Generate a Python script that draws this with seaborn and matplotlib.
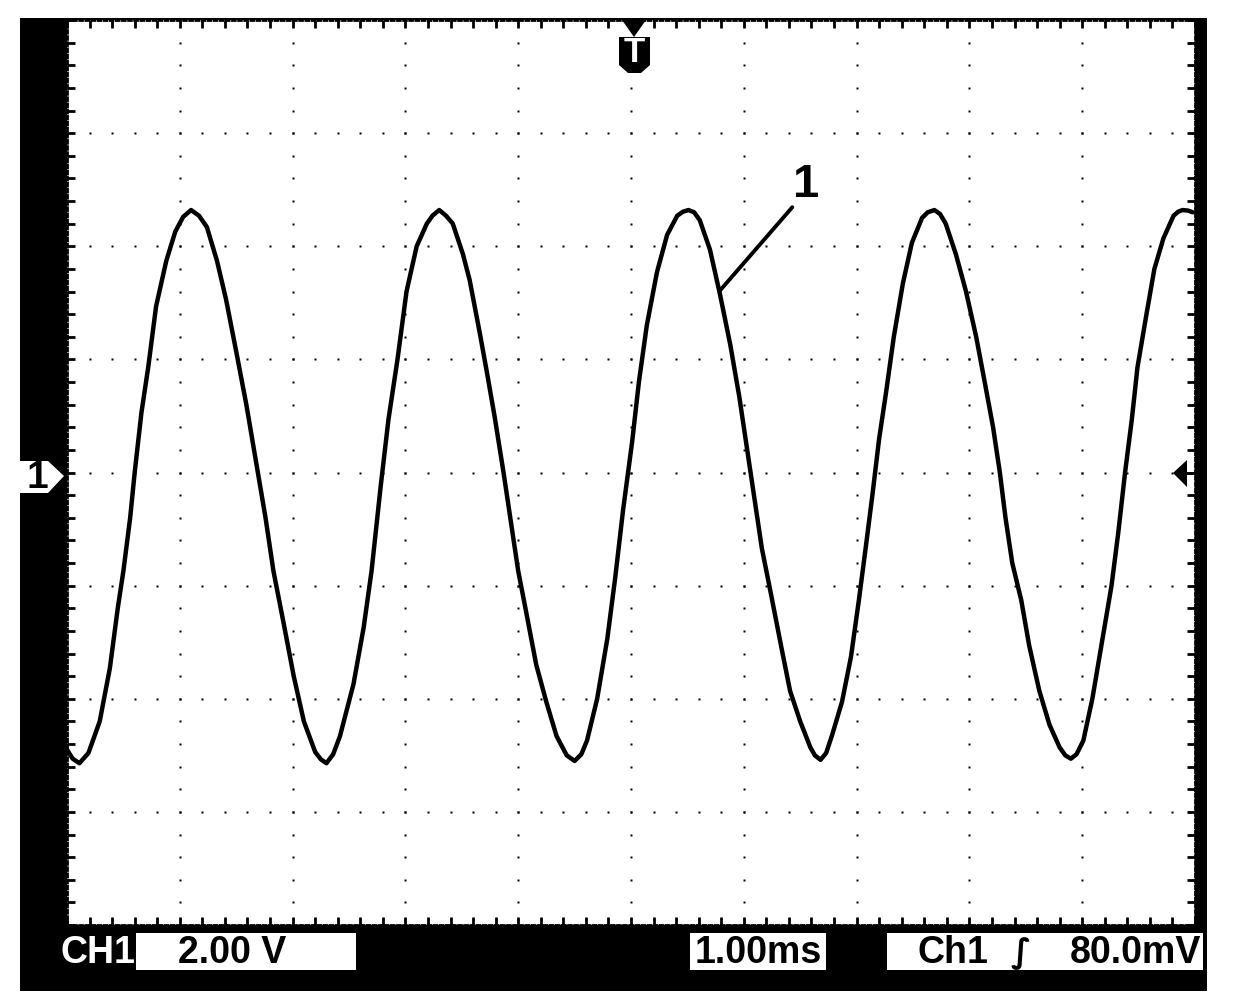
import numpy as np
import matplotlib
matplotlib.use("Agg")
import matplotlib.pyplot as plt
from matplotlib.patches import Rectangle, Polygon
from matplotlib.lines import Line2D
import seaborn as sns

# ---- data (time in ms, voltage in V) ----
time_ms = [
    -5.00, -4.95, -4.89, -4.81, -4.71, -4.62, -4.55, -4.50, -4.44, -4.40,
    -4.34, -4.28, -4.21, -4.12, -4.04, -3.97, -3.90, -3.83, -3.76, -3.67,
    -3.59, -3.50, -3.41, -3.32, -3.24, -3.17, -3.08, -2.99, -2.90, -2.80,
    -2.75, -2.70, -2.64, -2.58, -2.46, -2.37, -2.30, -2.22, -2.15, -2.07,
    -1.99, -1.90, -1.81, -1.76, -1.70, -1.64, -1.58, -1.49, -1.43, -1.34,
    -1.28, -1.21, -1.13, -1.06, -1.00, -0.93, -0.84, -0.75, -0.66, -0.57,
    -0.50, -0.44, -0.39, -0.30, -0.21, -0.14, -0.07, 0.01, 0.07, 0.14,
    0.23, 0.32, 0.41, 0.46, 0.51, 0.56, 0.61, 0.70, 0.79, 0.88,
    0.96, 1.03, 1.10, 1.16, 1.24, 1.33, 1.41, 1.50, 1.59, 1.63,
    1.68, 1.73, 1.78, 1.87, 1.95, 2.02, 2.08, 2.14, 2.20, 2.26,
    2.33, 2.41, 2.49, 2.58, 2.63, 2.69, 2.74, 2.79, 2.88, 2.97,
    3.06, 3.13, 3.21, 3.27, 3.32, 3.38, 3.46, 3.53, 3.62, 3.71,
    3.80, 3.85, 3.90, 3.95, 4.01, 4.09, 4.18, 4.26, 4.32, 4.38,
    4.44, 4.49, 4.57, 4.64, 4.72, 4.81, 4.85, 4.89, 4.94, 4.98,
]
volts = [
    -4.90, -5.06, -5.14, -4.96, -4.40, -3.46, -2.40, -1.74, -0.80, 0.00,
    1.06, 1.86, 2.94, 3.74, 4.26, 4.52, 4.64, 4.54, 4.34, 3.74,
    3.06, 2.14, 1.20, 0.14, -0.80, -1.74, -2.66, -3.60, -4.40, -4.94,
    -5.07, -5.14, -4.98, -4.66, -3.74, -2.74, -1.74, -0.26, 0.94, 2.00,
    3.20, 4.00, 4.40, 4.54, 4.64, 4.54, 4.40, 3.86, 3.40, 2.46,
    1.80, 1.00, 0.00, -0.94, -1.74, -2.46, -3.40, -4.06, -4.66, -5.00,
    -5.10, -4.98, -4.74, -4.00, -2.94, -1.86, -0.66, 0.54, 1.60, 2.60,
    3.54, 4.20, 4.54, 4.61, 4.64, 4.60, 4.46, 3.94, 3.14, 2.26,
    1.34, 0.40, -0.54, -1.34, -2.14, -3.06, -3.86, -4.40, -4.86, -5.00,
    -5.08, -4.96, -4.66, -4.06, -3.26, -2.26, -1.34, -0.40, 0.60, 1.40,
    2.40, 3.34, 4.06, 4.50, 4.60, 4.64, 4.57, 4.40, 3.86, 3.20,
    2.40, 1.66, 0.80, 0.00, -0.80, -1.60, -2.26, -3.06, -3.86, -4.46,
    -4.86, -5.00, -5.06, -4.98, -4.74, -4.00, -2.94, -2.00, -1.06, 0.00,
    0.94, 1.86, 2.80, 3.60, 4.14, 4.54, 4.61, 4.64, 4.63, 4.60,
]

# scope settings / labels
ch_label = "CH1"
volts_div_label = "2.00 V"
time_div_label = "1.00ms"
trig_src_label = "Ch1"
trig_level_label = "80.0mV"
trace_label = "1"
volts_per_div = 2.0
ms_per_div = 1.0
n_xdiv, n_ydiv = 10, 8
# leader line for label "1": (time, volt) start/end, label position
leader_t = [1.43, 0.79]
leader_v = [4.69, 3.22]
label_pos = (1.55, 5.08)

sns.set_style("white")
plt.rcParams["font.family"] = ["Liberation Sans Narrow", "Liberation Sans", "DejaVu Sans"]

W, H = 1248, 1006
fig = plt.figure(figsize=(W / 100, H / 100), dpi=100)
fig.patch.set_facecolor("white")


def fx(x):
    return x / W


def fy(y):
    return 1 - y / H


# black instrument frame
fig.add_artist(Rectangle((fx(20), fy(991)), (1207 - 20) / W, (991 - 18) / H,
                         transform=fig.transFigure, facecolor="black",
                         edgecolor="none", zorder=-1))

ax_l, ax_r, ax_t, ax_b = 67, 1195, 20, 925
ax = fig.add_axes([fx(ax_l), fy(ax_b), (ax_r - ax_l) / W, (ax_b - ax_t) / H])
ax.set_facecolor("white")

xmax = n_xdiv / 2 * ms_per_div
ymax = n_ydiv / 2 * volts_per_div
ax.set_xlim(-xmax, xmax)
ax.set_ylim(-ymax, ymax)

# graticule dots
xsub = np.arange(-xmax, xmax + 1e-9, ms_per_div / 5)
ysub = np.arange(-ymax, ymax + 1e-9, volts_per_div / 5)
for xv in np.arange(-xmax + ms_per_div, xmax - 1e-9, ms_per_div):
    ax.plot(np.full_like(ysub, xv), ysub, ls="none", marker="s", ms=1.8,
            mec="none", color="black", zorder=1)
for yv in np.arange(-ymax + volts_per_div, ymax - 1e-9, volts_per_div):
    ax.plot(xsub, np.full_like(xsub, yv), ls="none", marker="s", ms=1.8,
            mec="none", color="black", zorder=1)

ax.set_xticks(xsub)
ax.set_yticks(ysub)
ax.set_xticklabels([])
ax.set_yticklabels([])
ax.tick_params(direction="in", length=6, width=2, color="black",
               top=True, right=True, bottom=True, left=True)
for s in ax.spines.values():
    s.set_visible(True)
    s.set_color("black")
    s.set_linewidth(2)
    s.set_linestyle((0, (1, 1.2)))
ax.set_xlabel("")
ax.set_ylabel("")

# the trace
sns.lineplot(x=time_ms, y=volts, ax=ax, sort=False, estimator=None,
             color="black", lw=3.2, zorder=3)
if ax.get_legend() is not None:
    ax.get_legend().remove()

# label "1" with leader
ax.plot(leader_t, leader_v, color="black", lw=2.8, solid_capstyle="round", zorder=4)
ax.text(label_pos[0], label_pos[1], trace_label, fontsize=34, fontweight="bold",
        ha="center", va="center", color="black",
        family=["Liberation Sans", "DejaVu Sans"], zorder=4)

# left ground marker "1>"
fig.add_artist(Polygon([(fx(20), fy(461)), (fx(48), fy(461)), (fx(64), fy(476)),
                        (fx(48), fy(493)), (fx(20), fy(493))],
                       closed=True, transform=fig.transFigure,
                       facecolor="white", edgecolor="none", zorder=5))
fig.text(fx(37), fy(478), "1", fontsize=28, fontweight="bold", color="black",
         ha="center", va="center", family=["Liberation Sans", "DejaVu Sans"], zorder=6)

# right trigger level marker
fig.add_artist(Polygon([(fx(1173), fy(473)), (fx(1187), fy(460)), (fx(1187), fy(487))],
                       closed=True, transform=fig.transFigure,
                       facecolor="black", edgecolor="none", zorder=5))
fig.add_artist(Line2D([fx(1186), fx(1196)], [fy(473), fy(473)],
                      transform=fig.transFigure, color="black", lw=2, zorder=5))

# top trigger position marker "T"
fig.add_artist(Polygon([(fx(622), fy(20)), (fx(646), fy(20)), (fx(634), fy(37))],
                       closed=True, transform=fig.transFigure,
                       facecolor="black", edgecolor="none", zorder=5))
fig.add_artist(Polygon([(fx(619), fy(37)), (fx(650), fy(37)), (fx(650), fy(65)),
                        (fx(641), fy(73)), (fx(628), fy(73)), (fx(619), fy(65))],
                       closed=True, transform=fig.transFigure,
                       facecolor="black", edgecolor="none", zorder=5))
fig.text(fx(634.5), fy(53), "T", fontsize=25, fontweight="bold", color="white",
         ha="center", va="center", family=["Liberation Sans", "DejaVu Sans"], zorder=6)

# bottom status bar
ty = fy(953)
fig.text(fx(60), ty, ch_label, fontsize=27, color="white", ha="left", va="center",
         fontweight="bold", zorder=6)
for x0, x1 in [(136, 356), (690, 826), (887, 1203)]:
    fig.add_artist(Rectangle((fx(x0), fy(970)), (x1 - x0) / W, (970 - 933) / H,
                             transform=fig.transFigure, facecolor="white",
                             edgecolor="none", zorder=5))
fig.text(fx(178), ty, volts_div_label, fontsize=27, color="black", ha="left",
         va="center", fontweight="bold", zorder=6)
fig.text(fx(758), ty, time_div_label, fontsize=27, color="black", ha="center",
         va="center", fontweight="bold", zorder=6)
fig.text(fx(917), ty, trig_src_label, fontsize=27, color="black", ha="left",
         va="center", fontweight="bold", zorder=6)
fig.text(fx(1021), ty, "\u222b", fontsize=24, color="black", ha="center",
         va="center", fontweight="bold", family=["DejaVu Sans"], zorder=6)
fig.text(fx(1201), ty, trig_level_label, fontsize=27, color="black", ha="right",
         va="center", fontweight="bold", zorder=6)

fig.savefig("out.png", dpi=100, facecolor="white")
